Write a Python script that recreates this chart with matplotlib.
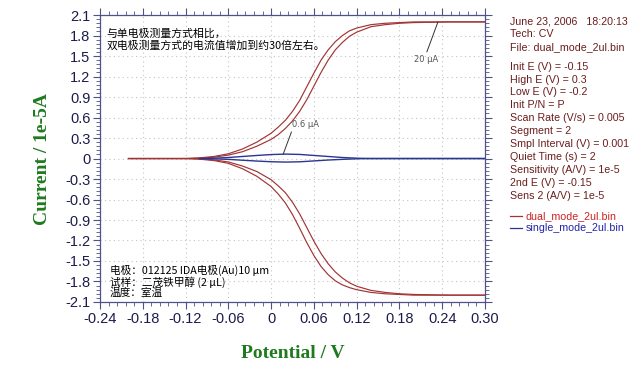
import matplotlib
matplotlib.use("Agg")
from matplotlib import pyplot as plt
from matplotlib.ticker import AutoMinorLocator

# potential axis (V) for the dual-mode scans
E_dual = [-0.20, -0.12, -0.10, -0.08, -0.06, -0.04, -0.02, 0.00, 0.01, 0.02,
          0.03, 0.04, 0.05, 0.06, 0.07, 0.08, 0.09, 0.10, 0.11, 0.12,
          0.14, 0.16, 0.18, 0.20, 0.25, 0.30]
# collector / generator currents (1e-5 A), two branches each
dual_up_a = [0, 0, 0.01, 0.03, 0.07, 0.14, 0.24, 0.37, 0.46, 0.56,
             0.69, 0.85, 1.05, 1.25, 1.44, 1.59, 1.71, 1.80, 1.87, 1.91,
             1.96, 1.98, 1.99, 2.00, 2.00, 2.00]
dual_up_b = [0, 0, 0.005, 0.02, 0.05, 0.10, 0.18, 0.28, 0.35, 0.44,
             0.55, 0.69, 0.86, 1.06, 1.26, 1.44, 1.59, 1.70, 1.79, 1.85,
             1.93, 1.96, 1.98, 1.99, 2.00, 2.00]
dual_dn_a = [0, 0, -0.01, -0.03, -0.07, -0.15, -0.26, -0.41, -0.52, -0.65,
             -0.82, -1.02, -1.23, -1.42, -1.58, -1.70, -1.79, -1.85, -1.89, -1.92,
             -1.96, -1.98, -1.99, -2.00, -2.00, -2.00]
dual_dn_b = [0, 0, -0.005, -0.02, -0.05, -0.11, -0.19, -0.31, -0.40, -0.50,
             -0.64, -0.81, -1.01, -1.21, -1.39, -1.54, -1.66, -1.75, -1.82, -1.87,
             -1.93, -1.96, -1.98, -1.99, -2.00, -2.00]

# single-mode scan
E_single = [-0.10, -0.08, -0.06, -0.04, -0.02, 0.00, 0.02, 0.04, 0.06, 0.08,
            0.10, 0.12, 0.14, 0.30]
single_a = [0, 0.005, 0.015, 0.03, 0.045, 0.058, 0.065, 0.06, 0.045, 0.03,
            0.015, 0.005, 0, 0]
single_b = [0, -0.005, -0.012, -0.025, -0.037, -0.047, -0.052, -0.048, -0.035, -0.022,
            -0.012, -0.004, 0, 0]

x_ticks = [-0.24, -0.18, -0.12, -0.06, 0, 0.06, 0.12, 0.18, 0.24, 0.30]
x_labels = ["-0.24", "-0.18", "-0.12", "-0.06", "0", "0.06", "0.12", "0.18", "0.24", "0.30"]
y_ticks = [2.1, 1.8, 1.5, 1.2, 0.9, 0.6, 0.3, 0, -0.3, -0.6, -0.9, -1.2, -1.5, -1.8, -2.1]
y_labels = ["2.1", "1.8", "1.5", "1.2", "0.9", "0.6", "0.3", "0", "-0.3", "-0.6",
            "-0.9", "-1.2", "-1.5", "-1.8", "-2.1"]

info_lines = ["June 23, 2006   18:20:13", "Tech: CV", "File: dual_mode_2ul.bin",
              None,
              "Init E (V) = -0.15", "High E (V) = 0.3", "Low E (V) = -0.2",
              "Init P/N = P", "Scan Rate (V/s) = 0.005", "Segment = 2",
              "Smpl Interval (V) = 0.001", "Quiet Time (s) = 2",
              "Sensitivity (A/V) = 1e-5", "2nd E (V) = -0.15", "Sens 2 (A/V) = 1e-5"]

RED = "#a23434"
BLUE = "#2b3592"
AXC = "#50508a"
TXT = "#1c1c4c"
CJK = ["Noto Sans CJK SC", "DejaVu Sans"]
NUM = ["Liberation Sans Narrow", "Liberation Sans"]

fig = plt.figure(figsize=(6.38, 3.77), dpi=100)
ax = fig.add_axes([0.1567, 0.199, 0.6035, 0.761])

for ys in (dual_up_a, dual_up_b, dual_dn_a, dual_dn_b):
    ax.plot(E_dual, ys, color=RED, lw=0.85)
for ys in (single_a, single_b):
    ax.plot(E_single, ys, color=BLUE, lw=1.0)

ax.set_xlim(-0.24, 0.30)
ax.set_ylim(-2.1, 2.1)
ax.set_xticks(x_ticks)
ax.set_xticklabels(x_labels, family=NUM, fontsize=10.5, color=TXT)
ax.set_yticks(y_ticks)
ax.set_yticklabels(y_labels, family=NUM, fontsize=10.5, color=TXT)
ax.xaxis.set_minor_locator(AutoMinorLocator(5))
ax.yaxis.set_minor_locator(AutoMinorLocator(5))
ax.tick_params(which="both", direction="out", top=True, right=True, color=AXC)
ax.tick_params(which="major", length=5, width=0.8, pad=2)
ax.tick_params(which="minor", length=3, width=0.6)
for s in ax.spines.values():
    s.set_color(AXC)
    s.set_linewidth(0.9)
ax.grid(True, color="#c4c4c4", linestyle=(0, (1, 3)), lw=0.8)

ax.set_xlabel("Potential / V", family="Liberation Serif", fontweight="bold",
              fontsize=14, color="#1f7a1f", labelpad=14)
ax.set_ylabel("Current / 1e-5A", family="Liberation Serif", fontweight="bold",
              fontsize=14, color="#1f7a1f", labelpad=10)

# notes on the plot
ax.text(-0.231, 1.91, "与单电极测量方式相比，\n双电极测量方式的电流值增加到约30倍左右。",
        family=CJK, fontsize=7.8, va="top", ha="left", linespacing=1.3)
ax.text(-0.226, -1.56, "电极：012125 IDA电极(Au)10 μm\n试样：二茂铁甲醇 (2 μL)\n温度：室温",
        family=CJK, fontsize=7.7, va="top", ha="left", linespacing=1.0)

ax.annotate("0.6 μA", xy=(0.017, 0.066), xytext=(0.030, 0.43),
            fontsize=6, color="#555555", ha="left", va="bottom",
            arrowprops=dict(arrowstyle="-", color="#333333", lw=0.7,
                            relpos=(0, 0), shrinkA=0, shrinkB=0))
ax.annotate("20 μA", xy=(0.234, 2.0), xytext=(0.217, 1.52),
            fontsize=6, color="#555555", ha="center", va="top",
            arrowprops=dict(arrowstyle="-", color="#333333", lw=0.7,
                            relpos=(0.5, 1), shrinkA=0, shrinkB=0))

# parameter panel on the right
H = 377.0
y_px = [22, 34, 47, None, 67, 80, 92, 105, 118, 131, 144, 157, 170, 183, 196]
for line, yp in zip(info_lines, y_px):
    if line is None:
        continue
    fig.text(510 / 638, 1 - yp / H, line, family="Liberation Sans", fontsize=7.7,
             color="#6b1d1d", va="center", ha="left")

for name, col, lc, yp in (("dual_mode_2ul.bin", "#cc2222", RED, 216),
                          ("single_mode_2ul.bin", "#2323a8", BLUE, 228)):
    fig.add_artist(plt.Line2D([510 / 638, 522 / 638], [1 - yp / H, 1 - yp / H],
                              color=lc, lw=0.9))
    fig.text(526 / 638, 1 - yp / H, name, family="Liberation Sans", fontsize=7.7,
             color=col, va="center", ha="left")

fig.savefig("out.png", dpi=100)
